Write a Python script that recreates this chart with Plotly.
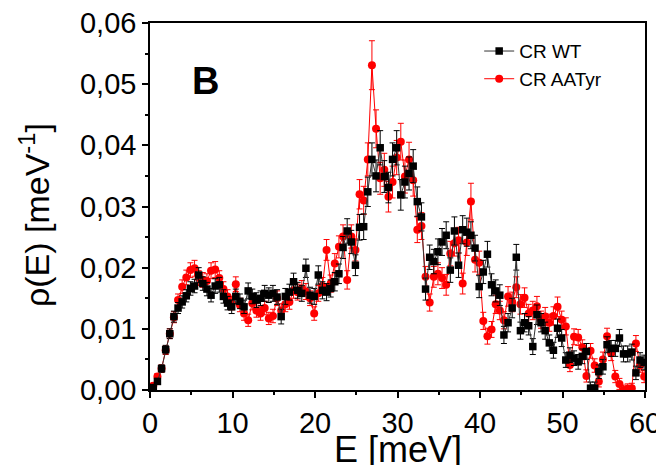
import plotly.graph_objects as go

# energy grid, meV
energy = [round(0.4 + 0.5 * i, 2) for i in range(120)]

rho_wt = [
    0.0004, 0.0014, 0.0035, 0.0066, 0.0092, 0.0120, 0.0134, 0.0144, 0.0154, 0.0166,
    0.0170, 0.0188, 0.0174, 0.0165, 0.0155, 0.0170, 0.0172, 0.0153, 0.0142, 0.0136,
    0.0153, 0.0145, 0.0136, 0.0162, 0.0153, 0.0147, 0.0150, 0.0158, 0.0155, 0.0158,
    0.0152, 0.0120, 0.0153, 0.0160, 0.0177, 0.0163, 0.0158, 0.0199, 0.0155, 0.0153,
    0.0188, 0.0163, 0.0160, 0.0166, 0.0177, 0.0190, 0.0233, 0.0260, 0.0242, 0.0204,
    0.0266, 0.0267, 0.0324, 0.0377, 0.0350, 0.0396, 0.0349, 0.0331, 0.0377, 0.0396,
    0.0319, 0.0340, 0.0354, 0.0366, 0.0308, 0.0283, 0.0165, 0.0217, 0.0210, 0.0226,
    0.0242, 0.0253, 0.0196, 0.0260, 0.0204, 0.0262, 0.0258, 0.0253, 0.0232, 0.0169,
    0.0193, 0.0222, 0.0172, 0.0162, 0.0155, 0.0090, 0.0110, 0.0134, 0.0217, 0.0097,
    0.0110, 0.0105, 0.0071, 0.0123, 0.0110, 0.0097, 0.0077, 0.0065, 0.0101, 0.0085,
    0.0049, 0.0057, 0.0052, 0.0046, 0.0055, 0.0063, 0.0003, 0.0003, 0.0030, 0.0038,
    0.0074, 0.0068, 0.0068, 0.0085, 0.0059, 0.0059, 0.0062, 0.0028, 0.0049, 0.0045,
]

err_wt = [
    0.0004, 0.0005, 0.0006, 0.0007, 0.0008, 0.0009, 0.0009, 0.0010, 0.0010, 0.0011,
    0.0011, 0.0012, 0.0011, 0.0011, 0.0011, 0.0012, 0.0012, 0.0011, 0.0011, 0.0011,
    0.0012, 0.0012, 0.0011, 0.0013, 0.0012, 0.0012, 0.0012, 0.0013, 0.0012, 0.0013,
    0.0012, 0.0012, 0.0013, 0.0013, 0.0014, 0.0013, 0.0013, 0.0015, 0.0013, 0.0013,
    0.0015, 0.0014, 0.0014, 0.0014, 0.0015, 0.0016, 0.0018, 0.0020, 0.0019, 0.0017,
    0.0021, 0.0021, 0.0024, 0.0027, 0.0026, 0.0028, 0.0026, 0.0025, 0.0027, 0.0028,
    0.0025, 0.0026, 0.0027, 0.0027, 0.0024, 0.0023, 0.0018, 0.0020, 0.0020, 0.0021,
    0.0022, 0.0022, 0.0020, 0.0023, 0.0020, 0.0023, 0.0023, 0.0022, 0.0021, 0.0018,
    0.0019, 0.0021, 0.0018, 0.0018, 0.0017, 0.0014, 0.0015, 0.0016, 0.0021, 0.0014,
    0.0015, 0.0015, 0.0013, 0.0016, 0.0015, 0.0014, 0.0013, 0.0013, 0.0015, 0.0014,
    0.0012, 0.0012, 0.0012, 0.0012, 0.0012, 0.0013, 0.0010, 0.0010, 0.0011, 0.0012,
    0.0013, 0.0013, 0.0013, 0.0014, 0.0013, 0.0013, 0.0013, 0.0011, 0.0012, 0.0012,
]

rho_aatyr = [
    0.0007, 0.0022, 0.0035, 0.0065, 0.0092, 0.0119, 0.0147, 0.0169, 0.0184, 0.0196,
    0.0199, 0.0183, 0.0180, 0.0178, 0.0195, 0.0197, 0.0183, 0.0165, 0.0153, 0.0142,
    0.0173, 0.0139, 0.0125, 0.0114, 0.0142, 0.0130, 0.0125, 0.0134, 0.0117, 0.0121,
    0.0150, 0.0130, 0.0140, 0.0144, 0.0163, 0.0160, 0.0166, 0.0161, 0.0150, 0.0125,
    0.0158, 0.0170, 0.0229, 0.0174, 0.0207, 0.0234, 0.0251, 0.0180, 0.0251, 0.0229,
    0.0320, 0.0310, 0.0377, 0.0531, 0.0427, 0.0346, 0.0360, 0.0316, 0.0340, 0.0380,
    0.0406, 0.0349, 0.0377, 0.0343, 0.0262, 0.0268, 0.0185, 0.0143, 0.0185, 0.0190,
    0.0183, 0.0172, 0.0223, 0.0240, 0.0245, 0.0174, 0.0241, 0.0308, 0.0213, 0.0208,
    0.0113, 0.0088, 0.0099, 0.0140, 0.0130, 0.0114, 0.0153, 0.0144, 0.0168, 0.0140,
    0.0151, 0.0125, 0.0130, 0.0137, 0.0115, 0.0120, 0.0110, 0.0121, 0.0136, 0.0115,
    0.0104, 0.0041, 0.0087, 0.0086, 0.0070, 0.0023, 0.0064, 0.0040, 0.0014, 0.0050,
    0.0088, 0.0060, 0.0022, 0.0010, 0.0000, 0.0002, 0.0003, 0.0076, 0.0040, 0.0022,
]

err_aatyr = [
    0.0004, 0.0005, 0.0006, 0.0007, 0.0008, 0.0009, 0.0010, 0.0011, 0.0012, 0.0012,
    0.0013, 0.0012, 0.0012, 0.0012, 0.0013, 0.0013, 0.0012, 0.0012, 0.0011, 0.0011,
    0.0012, 0.0011, 0.0011, 0.0010, 0.0011, 0.0011, 0.0011, 0.0011, 0.0010, 0.0011,
    0.0012, 0.0011, 0.0012, 0.0012, 0.0013, 0.0013, 0.0013, 0.0013, 0.0012, 0.0011,
    0.0013, 0.0014, 0.0017, 0.0014, 0.0016, 0.0018, 0.0019, 0.0015, 0.0019, 0.0018,
    0.0024, 0.0023, 0.0027, 0.0040, 0.0031, 0.0026, 0.0027, 0.0025, 0.0026, 0.0028,
    0.0030, 0.0027, 0.0028, 0.0026, 0.0021, 0.0022, 0.0017, 0.0014, 0.0017, 0.0018,
    0.0017, 0.0017, 0.0020, 0.0021, 0.0021, 0.0017, 0.0021, 0.0030, 0.0020, 0.0019,
    0.0014, 0.0013, 0.0013, 0.0015, 0.0015, 0.0014, 0.0016, 0.0016, 0.0017, 0.0016,
    0.0016, 0.0015, 0.0015, 0.0016, 0.0014, 0.0015, 0.0014, 0.0015, 0.0016, 0.0014,
    0.0014, 0.0011, 0.0013, 0.0013, 0.0012, 0.0010, 0.0012, 0.0011, 0.0009, 0.0012,
    0.0013, 0.0012, 0.0010, 0.0009, 0.0008, 0.0008, 0.0008, 0.0013, 0.0011, 0.0010,
]

FONT = "Arial, Liberation Sans, sans-serif"

fig = go.Figure()

fig.add_trace(go.Scatter(
    x=energy, y=rho_aatyr, name="CR AATyr",
    mode="lines+markers",
    line=dict(color="#ff0000", width=1),
    marker=dict(symbol="circle", size=8, color="#ff0000"),
    error_y=dict(type="data", array=err_aatyr, color="#ff0000", thickness=1, width=3),
))

fig.add_trace(go.Scatter(
    x=energy, y=rho_wt, name="CR WT",
    mode="lines+markers",
    line=dict(color="#333333", width=1),
    marker=dict(symbol="square", size=7.5, color="#000000"),
    error_y=dict(type="data", array=err_wt, color="#000000", thickness=1, width=3),
))

# panel letter and axis titles as annotations so they sit where the original has them
fig.add_annotation(
    x=0.08, y=0.905, xref="paper", yref="paper",
    text="<b>B</b>", showarrow=False,
    font=dict(family=FONT, size=38, color="black"),
)
fig.add_annotation(
    x=0.5, y=-0.162, xref="paper", yref="paper",
    xanchor="center", yanchor="middle",
    text="E [meV]", showarrow=False,
    font=dict(family=FONT, size=36, color="black"),
)
fig.add_annotation(
    x=-0.232, y=0.477, xref="paper", yref="paper",
    xanchor="center", yanchor="middle", textangle=-90,
    text="ρ(E) [meV<sup>-1</sup>]", showarrow=False,
    font=dict(family=FONT, size=34, color="black"),
)

fig.update_xaxes(
    range=[0, 60], dtick=10, tick0=0,
    ticks="outside", ticklen=6, tickwidth=1.5, tickcolor="black",
    minor=dict(dtick=5, ticks="outside", ticklen=3, tickwidth=1.5, tickcolor="black"),
    showline=True, linecolor="black", linewidth=1.5, mirror=True,
    showgrid=False, zeroline=False, automargin=False,
    ticklabeloverflow="allow",
    tickfont=dict(family=FONT, size=29, color="black"),
)

fig.update_yaxes(
    range=[0, 0.06], dtick=0.01, tick0=0, tickformat=".2f",
    ticks="outside", ticklen=6, tickwidth=1.5, tickcolor="black",
    minor=dict(dtick=0.005, ticks="outside", ticklen=3, tickwidth=1.5, tickcolor="black"),
    showline=True, linecolor="black", linewidth=1.5, mirror=True,
    showgrid=False, zeroline=False, automargin=False,
    ticklabeloverflow="allow",
    tickfont=dict(family=FONT, size=29, color="black"),
)

# the page keeps an 8px body margin, so the figure is 8px smaller than the window
fig.update_layout(
    width=656, height=457,
    margin=dict(l=142, r=19, t=15, b=75),
    paper_bgcolor="white", plot_bgcolor="white",
    separators=",.",
    showlegend=True,
    legend=dict(
        x=0.665, y=0.975, xanchor="left", yanchor="top",
        traceorder="reversed",
        bgcolor="rgba(0,0,0,0)",
        font=dict(family=FONT, size=19, color="black"),
        itemwidth=30, tracegroupgap=0,
    ),
)

fig.write_html("out.html")
